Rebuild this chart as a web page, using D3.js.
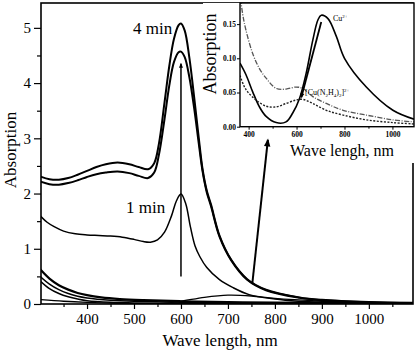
<!DOCTYPE html>
<html>
<head>
<meta charset="utf-8">
<script src="https://cdn.jsdelivr.net/npm/d3@7"></script>
<style>
  body { margin: 0; background: #fff; }
  svg { display: block; font-family: "Liberation Serif", "Times New Roman", serif; }
</style>
</head>
<body>
<svg id="chart" width="420" height="351"></svg>
<script>
// main spectra, [wavelength nm, absorption]
const min4 = [[300,2.31],[320,2.26],[340,2.25],[360,2.28],[380,2.34],[400,2.41],[420,2.48],[440,2.53],[465,2.56],[490,2.53],[510,2.48],[530,2.44],[543,2.55],[553,2.9],[565,3.65],[575,4.3],[585,4.8],[595,5.05],[600,5.08],[608,4.95],[618,4.45],[628,3.75],[638,3.0],[646,2.44],[655,2.05],[664,1.8],[682,1.24],[707,0.8],[741,0.45],[781,0.26],[852,0.12],[900,0.075],[1000,0.035],[1100,0.02]];
const min3 = [[300,2.22],[320,2.17],[340,2.16],[360,2.19],[380,2.24],[400,2.3],[420,2.35],[440,2.38],[465,2.4],[490,2.37],[510,2.32],[530,2.28],[543,2.38],[553,2.7],[565,3.35],[575,3.95],[585,4.38],[595,4.56],[600,4.57],[608,4.47],[618,4.1],[628,3.55],[638,2.9],[646,2.4],[655,2.02],[664,1.77],[682,1.22],[707,0.79],[741,0.44],[781,0.25],[852,0.115],[900,0.07],[1000,0.033],[1100,0.018]];
const min1 = [[300,1.6],[315,1.48],[330,1.4],[350,1.32],[375,1.27],[400,1.25],[425,1.24],[450,1.23],[475,1.21],[500,1.17],[520,1.13],[535,1.12],[550,1.16],[565,1.3],[580,1.6],[590,1.86],[600,1.99],[610,1.82],[620,1.4],[630,1.05],[640,0.86],[655,0.66],[682,0.44],[710,0.3],[745,0.17],[800,0.09],[850,0.05],[900,0.03],[1000,0.015],[1100,0.01]];
const low1 = [[300,0.63],[320,0.46],[340,0.34],[360,0.26],[380,0.2],[400,0.16],[430,0.12],[470,0.09],[520,0.07],[600,0.05],[700,0.035],[800,0.025],[1100,0.01]];
const low2 = [[300,0.5],[320,0.36],[340,0.26],[360,0.19],[380,0.14],[400,0.11],[450,0.07],[500,0.05],[600,0.03],[800,0.015],[1100,0.005]];
const low3 = [[300,0.42],[320,0.28],[340,0.19],[360,0.13],[380,0.09],[400,0.06],[450,0.03],[500,0.02],[600,0.01],[1100,0.005]];
const cuMain = [[300,0.08],[350,0.05],[400,0.03],[500,0.005],[560,0.01],[600,0.05],[650,0.12],[700,0.16],[750,0.145],[800,0.1],[900,0.05],[1000,0.02],[1100,0.01]];

// inset spectra
const cuInset = [[364,0.093],[389,0.076],[417,0.051],[445,0.029],[473,0.015],[515,0.006],[556,0.007],[584,0.02],[612,0.041],[640,0.078],[668,0.127],[689,0.156],[703,0.163],[731,0.158],[766,0.132],[800,0.1],[891,0.058],[1002,0.024],[1090,0.011]];
const hydrInset = [[362,0.2],[375,0.165],[389,0.141],[417,0.107],[445,0.085],[473,0.071],[515,0.056],[556,0.055],[598,0.058],[626,0.056],[668,0.044],[724,0.034],[794,0.024],[891,0.017],[1002,0.01],[1090,0.007]];
const complexInset = [[364,0.075],[380,0.06],[396,0.051],[431,0.039],[473,0.03],[515,0.029],[556,0.034],[598,0.039],[626,0.04],[668,0.034],[724,0.024],[794,0.017],[891,0.01],[1002,0.006],[1090,0.004]];

const mainXTicks = [400, 500, 600, 700, 800, 900, 1000];
const mainYTicks = [0, 1, 2, 3, 4, 5];
const insetXTicks = [400, 600, 800, 1000];
const insetYTicks = [0, 0.05, 0.10, 0.15];

const svg = d3.select("#chart");

// ---- main plot ----
const x = d3.scaleLinear().domain([302, 1094]).range([41, 413]);
const y = d3.scaleLinear().domain([0, 5.45]).range([304, 3]);

const defs = svg.append("defs");
defs.append("clipPath").attr("id", "mainClip")
  .append("rect").attr("x", 41).attr("y", 3).attr("width", 372).attr("height", 301);
defs.append("clipPath").attr("id", "insetClip")
  .append("rect").attr("x", 240).attr("y", 3).attr("width", 174).attr("height", 124);
defs.append("marker").attr("id", "head")
    .attr("viewBox", "0 0 10 10").attr("refX", 8).attr("refY", 5)
    .attr("markerUnits", "userSpaceOnUse")
    .attr("markerWidth", 12).attr("markerHeight", 8).attr("orient", "auto")
  .append("path").attr("d", "M0,1 L10,5 L0,9 Z").attr("fill", "#000");
defs.append("marker").attr("id", "headSmall")
    .attr("viewBox", "0 0 10 10").attr("refX", 8).attr("refY", 5)
    .attr("markerUnits", "userSpaceOnUse")
    .attr("markerWidth", 9).attr("markerHeight", 5).attr("orient", "auto")
  .append("path").attr("d", "M0,1 L10,5 L0,9 Z").attr("fill", "#000");

const line = d3.line().x(d => x(d[0])).y(d => y(d[1])).curve(d3.curveCatmullRom.alpha(0.5));

const mainSeries = [
  {d: min4, w: 2},
  {d: min3, w: 2},
  {d: min1, w: 1.5},
  {d: low1, w: 2.2},
  {d: low2, w: 1.5},
  {d: low3, w: 1.5},
  {d: cuMain, w: 1.3}
];
svg.append("g").attr("clip-path", "url(#mainClip)")
  .selectAll("path").data(mainSeries).join("path")
    .attr("d", s => line(s.d))
    .attr("fill", "none").attr("stroke", "#000")
    .attr("stroke-width", s => s.w);

// axes
const gx = svg.append("g").attr("transform", "translate(0,304)");
gx.call(d3.axisBottom(x).tickValues(mainXTicks).tickSize(5).tickPadding(4).tickFormat(d3.format("d")));
gx.append("g").call(d3.axisBottom(x).tickValues(d3.range(350, 1100, 100)).tickSize(3).tickFormat(""));
const gy = svg.append("g").attr("transform", "translate(41,0)");
gy.call(d3.axisLeft(y).tickValues(mainYTicks).tickSize(7).tickPadding(3).tickFormat(d3.format("d")));
gy.append("g").call(d3.axisLeft(y).tickValues(d3.range(0.5, 5.5, 1)).tickSize(4).tickFormat(""));
svg.selectAll(".domain").remove();
gx.selectAll("text").attr("font-size", 15).attr("font-family", "Liberation Serif");
gy.selectAll("text").attr("font-size", 15).attr("font-family", "Liberation Serif");
svg.selectAll(".tick line").attr("stroke-width", 1.2);

svg.append("rect").attr("x", 41).attr("y", 3).attr("width", 372).attr("height", 301)
  .attr("fill", "none").attr("stroke", "#000").attr("stroke-width", 1.6);

svg.append("text").attr("x", 220).attr("y", 346).attr("text-anchor", "middle")
  .attr("font-size", 17).text("Wave length, nm");
svg.append("text").attr("transform", "translate(16,150) rotate(-90)").attr("text-anchor", "middle")
  .attr("font-size", 17).text("Absorption");

svg.append("text").attr("x", 133).attr("y", 34).attr("font-size", 17).text("4 min");
svg.append("text").attr("x", 126).attr("y", 213).attr("font-size", 17).text("1 min");

// vertical arrow at the band maximum
const vArrow = [[600, 0.5], [600, 4.35]];
svg.append("line")
  .attr("x1", x(vArrow[0][0])).attr("y1", y(vArrow[0][1]))
  .attr("x2", x(vArrow[1][0])).attr("y2", y(vArrow[1][1]))
  .attr("stroke", "#000").attr("stroke-width", 1.5).attr("marker-end", "url(#headSmall)");

// ---- inset ----
const xi = d3.scaleLinear().domain([364, 1090]).range([240, 414]);
const yi = d3.scaleLinear().domain([0, 0.18]).range([126.7, 3.6]);
const lineI = d3.line().x(d => xi(d[0])).y(d => yi(d[1])).curve(d3.curveCatmullRom.alpha(0.5));

const inset = svg.append("g");
inset.append("rect").attr("x", 203).attr("y", 3).attr("width", 211).attr("height", 160).attr("fill", "#fff");

const insetSeries = [
  {d: cuInset, w: 1.6, c: "#000", dash: null},
  {d: hydrInset, w: 1.3, c: "#555", dash: "5,1.5,1,1.5"},
  {d: complexInset, w: 1.4, c: "#222", dash: "2,1.5"}
];
inset.append("g").attr("clip-path", "url(#insetClip)")
  .selectAll("path").data(insetSeries).join("path")
    .attr("d", s => lineI(s.d))
    .attr("fill", "none").attr("stroke", s => s.c)
    .attr("stroke-width", s => s.w)
    .attr("stroke-dasharray", s => s.dash);

const gxi = inset.append("g").attr("transform", "translate(0,126.7)");
gxi.call(d3.axisBottom(xi).tickValues(insetXTicks).tickSize(3).tickPadding(2).tickFormat(d3.format("d")));
gxi.append("g").call(d3.axisBottom(xi).tickValues([500, 700, 900]).tickSize(2).tickFormat(""));
const gyi = inset.append("g").attr("transform", "translate(240,0)");
gyi.call(d3.axisLeft(yi).tickValues(insetYTicks).tickSize(3).tickPadding(1)
  .tickFormat(d3.format(".2f")));
inset.selectAll(".domain").remove();
inset.selectAll(".tick text").attr("font-size", 7.5).attr("font-weight", "bold")
  .attr("font-family", "Liberation Serif");

inset.append("rect").attr("x", 240).attr("y", 3).attr("width", 174).attr("height", 123.7)
  .attr("fill", "none").attr("stroke", "#000").attr("stroke-width", 1.4);

inset.append("text").attr("x", 342).attr("y", 156).attr("text-anchor", "middle")
  .attr("font-size", 16).text("Wave lengh, nm");
inset.append("text").attr("transform", "translate(216,54) rotate(-90)").attr("text-anchor", "middle")
  .attr("font-size", 18).text("Absorption");

const cuLabel = inset.append("text").attr("x", 333).attr("y", 21).attr("font-size", 8);
cuLabel.append("tspan").text("Cu");
cuLabel.append("tspan").attr("font-size", 5).attr("dy", -3).text("2+");

const cxLabel = inset.append("text").attr("x", 305).attr("y", 95).attr("font-size", 8);
cxLabel.append("tspan").text("[Cu(N");
cxLabel.append("tspan").attr("font-size", 5).attr("dy", 2).text("2");
cxLabel.append("tspan").attr("dy", -2).text("H");
cxLabel.append("tspan").attr("font-size", 5).attr("dy", 2).text("4");
cxLabel.append("tspan").attr("dy", -2).text(")");
cxLabel.append("tspan").attr("font-size", 5).attr("dy", 2).text("2");
cxLabel.append("tspan").attr("dy", -2).text("]");
cxLabel.append("tspan").attr("font-size", 5).attr("dy", -3).text("2+");

const insetArrow = [[703, 0.153], [620, 0.043]];
inset.append("line")
  .attr("x1", xi(insetArrow[0][0])).attr("y1", yi(insetArrow[0][1]))
  .attr("x2", xi(insetArrow[1][0])).attr("y2", yi(insetArrow[1][1]))
  .attr("stroke", "#000").attr("stroke-width", 1.8).attr("marker-end", "url(#headSmall)");

// big arrow from the main spectra up to the inset (drawn last so it sits on top)
const bigArrow = [[752, 0.38], [785, 2.97]];
svg.append("line")
  .attr("x1", x(bigArrow[0][0])).attr("y1", y(bigArrow[0][1]))
  .attr("x2", x(bigArrow[1][0])).attr("y2", y(bigArrow[1][1]))
  .attr("stroke", "#000").attr("stroke-width", 2).attr("marker-end", "url(#head)");
</script>
</body>
</html>
